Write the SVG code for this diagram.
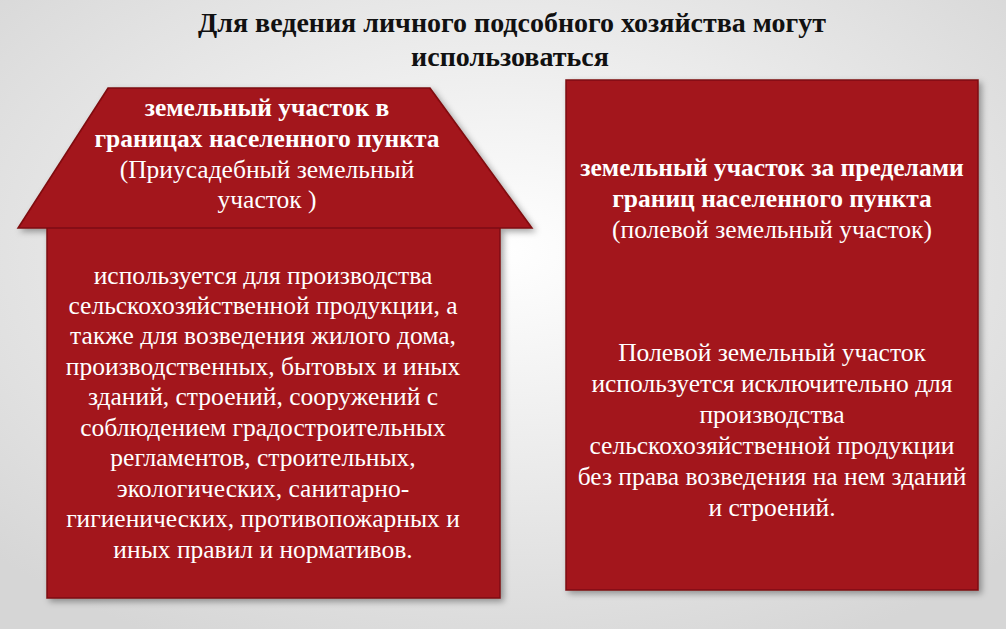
<svg xmlns="http://www.w3.org/2000/svg" width="1006" height="629" viewBox="0 0 1006 629">
<defs>
<radialGradient id="bg" cx="50%" cy="40%" r="70%"><stop offset="0" stop-color="#ffffff"/><stop offset="1" stop-color="#d6d6d6"/></radialGradient>
<filter id="sh" x="-5%" y="-5%" width="115%" height="115%"><feDropShadow dx="3" dy="3" stdDeviation="3" flood-color="#000" flood-opacity="0.35"/></filter>
</defs>
<style>
.box{fill:#a3121a;stroke:#7e0a10;stroke-width:1.5}
text{font-family:"Liberation Serif","Times New Roman",serif;fill:#fff;font-size:25.5px;text-anchor:middle}
.b{font-weight:bold}
.t{fill:#111;font-weight:bold;font-size:28px}
</style>
<rect width="1006" height="629" fill="url(#bg)"/>
<g id="title"><text class="t" x="512" y="32">Для ведения личного подсобного хозяйства могут</text><text class="t" x="510" y="66">использоваться</text></g>
<g id="house" filter="url(#sh)">
<rect class="box" x="47" y="226" width="453" height="372"/>
<polygon class="box" points="108,88 430,88 532,228 18,228"/>
</g>
<g id="house-text">
<text class="b" x="267" y="116">земельный участок в</text>
<text class="b" x="267" y="147">границах населенного пункта</text>
<text x="267" y="178">(Приусадебный земельный</text>
<text x="267" y="208">участок )</text>
<text x="263" y="284">используется для производства</text>
<text x="263" y="314">сельскохозяйственной продукции, а</text>
<text x="263" y="344">также для возведения жилого дома,</text>
<text x="263" y="375">производственных, бытовых и иных</text>
<text x="263" y="405">зданий, строений, сооружений с</text>
<text x="263" y="436">соблюдением градостроительных</text>
<text x="263" y="466">регламентов, строительных,</text>
<text x="263" y="497">экологических, санитарно-</text>
<text x="263" y="527">гигиенических, противопожарных и</text>
<text x="263" y="558">иных правил и нормативов.</text>
</g>
<g id="field" filter="url(#sh)"><rect class="box" x="566" y="80" width="412" height="510"/></g>
<g id="field-text">
<text class="b" x="772" y="176">земельный участок за пределами</text>
<text class="b" x="772" y="207">границ населенного пункта</text>
<text x="772" y="238">(полевой земельный участок)</text>
<text x="772" y="361">Полевой земельный участок</text>
<text x="772" y="392">используется исключительно для</text>
<text x="772" y="423">производства</text>
<text x="772" y="454">сельскохозяйственной продукции</text>
<text x="772" y="485">без права возведения на нем зданий</text>
<text x="772" y="516">и строений.</text>
</g>
</svg>
